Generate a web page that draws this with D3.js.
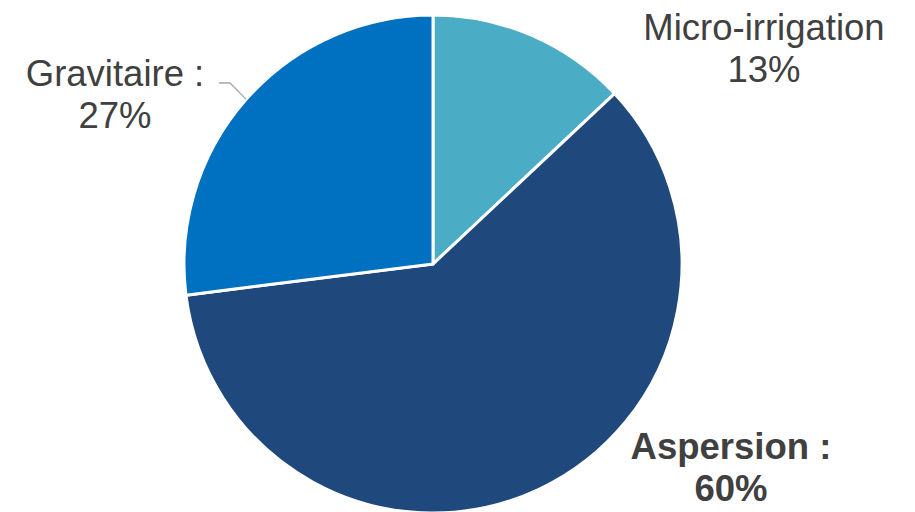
<!DOCTYPE html>
<html>
<head>
<meta charset="utf-8">
<script src="https://cdn.jsdelivr.net/npm/d3@7/dist/d3.min.js"></script>
<style>
  html, body { margin: 0; padding: 0; background: #ffffff; }
  svg { display: block; }
  text { font-family: "Liberation Sans", Arial, sans-serif; fill: #404040; }
</style>
</head>
<body>
<svg id="chart" width="915" height="512"></svg>
<script>
// Irrigation methods and their share (%)
const categories = ["Micro-irrigation", "Aspersion", "Gravitaire"];
const shares = [13, 60, 27];
const colors = ["#4BACC6", "#1F497D", "#0070C0"];
const labelLines = [
  ["Micro-irrigation", "13%"],
  ["Aspersion :", "60%"],
  ["Gravitaire :", "27%"]
];

const width = 915, height = 512;
const cx = 433, cy = 264, radius = 249;

const svg = d3.select("#chart");
const g = svg.append("g").attr("transform", `translate(${cx},${cy})`);

const data = categories.map((c, i) => ({ name: c, value: shares[i], color: colors[i], lines: labelLines[i] }));

const pie = d3.pie().value(d => d.value).sort(null);
const arc = d3.arc().innerRadius(0).outerRadius(radius);
const arcs = pie(data);

g.selectAll("path.slice")
  .data(arcs)
  .join("path")
  .attr("class", "slice")
  .attr("d", arc)
  .attr("fill", d => d.data.color)
  .attr("stroke", "#ffffff")
  .attr("stroke-width", 3)
  .attr("stroke-linejoin", "miter");

// Label placement (outside the pie), per slice
const labelPos = [
  { x: 764, y: 40, bold: false },
  { x: 731, y: 459, bold: true },
  { x: 115, y: 86, bold: false }
];
const lineGap = 42;

svg.selectAll("g.label")
  .data(arcs)
  .join("g")
  .attr("class", "label")
  .each(function(d, i) {
    const p = labelPos[i];
    const t = d3.select(this).append("text")
      .attr("text-anchor", "middle")
      .attr("font-size", 36.5)
      .attr("font-weight", p.bold ? "bold" : "normal");
    d.data.lines.forEach((ln, k) => {
      t.append("tspan").attr("x", p.x).attr("y", p.y + k * lineGap).text(ln);
    });
  });

// Leader line for the Gravitaire label, ending at the slice's mid-arc
const gravArc = arcs[2];
const midAngle = (gravArc.startAngle + gravArc.endAngle) / 2;
const edge = [cx + Math.sin(midAngle) * radius, cy - Math.cos(midAngle) * radius];
svg.append("polyline")
  .attr("points", [[219, 83], [230, 83], edge].map(p => p.join(",")).join(" "))
  .attr("fill", "none")
  .attr("stroke", "#A6A6A6")
  .attr("stroke-width", 1.3);
</script>
</body>
</html>
